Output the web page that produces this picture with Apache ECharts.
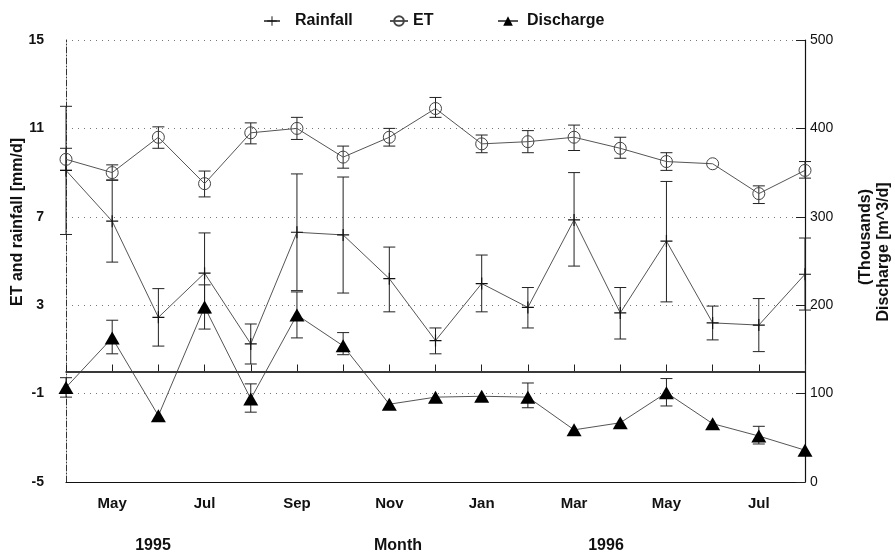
<!DOCTYPE html>
<html>
<head>
<meta charset="utf-8">
<script src="https://cdn.jsdelivr.net/npm/echarts@6/dist/echarts.min.js"></script>
<style>
  html, body { margin: 0; padding: 0; background: #fff; }
  #chart { width: 895px; height: 554px; }
</style>
</head>
<body>
<div id="chart"></div>
<script>
// Monthly means, April 1995 to August 1996
const months = ['Apr 1995','May 1995','Jun 1995','Jul 1995','Aug 1995','Sep 1995','Oct 1995','Nov 1995',
                'Dec 1995','Jan 1996','Feb 1996','Mar 1996','Apr 1996','May 1996','Jun 1996','Jul 1996','Aug 1996'];

// Rainfall [mm/d] with lower / upper error limits
const rainfall     = [9.1, 6.8, 2.45, 4.45, 1.25, 6.3, 6.18, 4.2, 1.4, 3.98, 2.9, 6.86, 2.65, 5.9, 2.2, 2.1, 4.4];
const rainfallLow  = [6.2, 4.95, 1.15, 2.65, 0.34, 3.66, 3.55, 2.7, 0.8, 2.7, 1.97, 4.77, 1.47, 3.15, 1.43, 0.9, 2.78];
const rainfallHigh = [12.0, 8.65, 3.75, 6.27, 2.15, 8.94, 8.8, 5.63, 1.97, 5.27, 3.8, 9.0, 3.8, 8.6, 2.96, 3.3, 6.04];

// Evapotranspiration [mm/d]
const et     = [9.6, 9.0, 10.6, 8.5, 10.8, 11.0, 9.7, 10.6, 11.9, 10.3, 10.4, 10.6, 10.1, 9.5, 9.4, 8.05, 9.1];
const etLow  = [9.1, 8.67, 10.1, 7.9, 10.3, 10.5, 9.2, 10.2, 11.5, 9.9, 9.9, 10.0, 9.65, 9.1, null, 7.6, 8.75];
const etHigh = [10.1, 9.35, 11.07, 9.07, 11.25, 11.5, 10.2, 11.0, 12.4, 10.7, 10.9, 11.15, 10.6, 9.9, null, 8.4, 9.5];

// Discharge [thousand m^3/d]
const discharge     = [107, 163, 75, 198, 94, 189, 154, 88, 96, 97, 96, 59, 67, 101, 66, 52, 36];
const dischargeLow  = [96, 145, null, 173, 79, 163, 144, null, null, null, 84, null, null, 86, null, 43, null];
const dischargeHigh = [118, 183, null, 223, 111, 215, 169, null, null, null, 112, null, null, 117, null, 63, null];

// Axis ticks
const leftTicks  = { min: -5, max: 15, interval: 4 };
const rightTicks = { min: 0, max: 500, interval: 100 };

const FONT = 'Liberation Sans, Arial, sans-serif';
const INK = '#111';

function barData(lo, hi) {
  const out = [];
  lo.forEach((v, i) => { if (v != null && hi[i] != null) out.push([i, v, hi[i]]); });
  return out;
}

function renderErrorBar(params, api) {
  const x = api.value(0);
  const lo = api.coord([x, api.value(1)]);
  const hi = api.coord([x, api.value(2)]);
  const w = 6;
  const style = { stroke: '#222', lineWidth: 1, fill: null };
  return {
    type: 'group',
    children: [
      { type: 'line', shape: { x1: lo[0], y1: lo[1], x2: hi[0], y2: hi[1] }, style },
      { type: 'line', shape: { x1: lo[0] - w, y1: lo[1], x2: lo[0] + w, y2: lo[1] }, style },
      { type: 'line', shape: { x1: hi[0] - w, y1: hi[1], x2: hi[0] + w, y2: hi[1] }, style }
    ]
  };
}

const plusSymbol = 'path://M0,4.5H10V5.5H0Z M4.5,0H5.5V10H4.5Z';

const chart = echarts.init(document.getElementById('chart'), null, { renderer: 'canvas' });

const legendText = { fontFamily: FONT, fontSize: 16, fontWeight: 'bold', color: INK };

chart.setOption({
  animation: false,
  backgroundColor: '#fff',
  grid: { left: 66, right: 90, top: 40, bottom: 72, containLabel: false },
  legend: [
    { data: ['Rainfall'], left: 258, top: 8, itemWidth: 16, itemHeight: 12,
      textStyle: Object.assign({ padding: [0, 0, 0, 10] }, legendText) },
    { data: ['ET'], left: 384, top: 8, itemWidth: 18, itemHeight: 12, textStyle: legendText },
    { data: ['Discharge'], left: 492, top: 8, itemWidth: 20, itemHeight: 12,
      textStyle: Object.assign({ padding: [0, 0, 0, 4] }, legendText) }
  ],
  xAxis: [
    {
      type: 'category',
      data: months,
      boundaryGap: false,
      position: 'bottom',
      axisLine: { lineStyle: { color: '#111', width: 1.5 } },
      axisTick: { show: true, inside: true, length: 7, interval: 0, lineStyle: { color: '#222' } },
      axisLabel: {
        interval: (i) => i % 2 === 1,
        formatter: (v) => v.split(' ')[0],
        margin: 14,
        fontFamily: FONT, fontSize: 15, fontWeight: 'bold', color: INK
      },
      splitLine: { show: false }
    },
    {
      type: 'category',
      data: months,
      boundaryGap: false,
      position: 'top',
      axisLine: { lineStyle: { color: '#111', width: 1.2 } },
      axisTick: { show: false },
      axisLabel: { show: false },
      splitLine: { show: false }
    }
  ],
  yAxis: [
    {
      type: 'value',
      position: 'left',
      min: leftTicks.min, max: leftTicks.max, interval: leftTicks.interval,
      axisLine: { show: true, lineStyle: { color: '#333', width: 1, type: [6, 2, 1, 2] } },
      axisTick: { show: false },
      axisLabel: {
        margin: 22, padding: [0, 0, 7, 0],
        fontFamily: FONT, fontSize: 14, fontWeight: 'bold', color: INK
      },
      splitLine: { show: true, lineStyle: { color: '#777', width: 1, type: [1, 5] } }
    },
    {
      type: 'value',
      position: 'right',
      min: rightTicks.min, max: rightTicks.max, interval: rightTicks.interval,
      axisLine: { show: true, lineStyle: { color: '#111', width: 1.2 } },
      axisTick: { show: true, inside: true, length: 9, lineStyle: { color: '#222' } },
      axisLabel: { margin: 5, fontFamily: FONT, fontSize: 14, color: INK },
      splitLine: { show: false }
    }
  ],
  series: [
    {
      name: 'Rainfall error', type: 'custom', xAxisIndex: 0, yAxisIndex: 0, z: 2,
      renderItem: renderErrorBar, encode: { x: 0, y: [1, 2] },
      data: barData(rainfallLow, rainfallHigh)
    },
    {
      name: 'ET error', type: 'custom', xAxisIndex: 0, yAxisIndex: 0, z: 2,
      renderItem: renderErrorBar, encode: { x: 0, y: [1, 2] },
      data: barData(etLow, etHigh)
    },
    {
      name: 'Discharge error', type: 'custom', xAxisIndex: 0, yAxisIndex: 1, z: 2,
      renderItem: renderErrorBar, encode: { x: 0, y: [1, 2] },
      data: barData(dischargeLow, dischargeHigh)
    },
    {
      name: 'Rainfall', type: 'line', xAxisIndex: 0, yAxisIndex: 0, z: 3,
      data: rainfall,
      symbol: plusSymbol, symbolSize: 12, showAllSymbol: true,
      lineStyle: { color: '#555', width: 1 },
      itemStyle: { color: '#111' },
      markLine: {
        silent: true, symbol: 'none', label: { show: false },
        lineStyle: { color: '#333', width: 1.5, type: 'solid' },
        data: [{ yAxis: 0 }]
      }
    },
    {
      name: 'ET', type: 'line', xAxisIndex: 0, yAxisIndex: 0, z: 3,
      data: et,
      symbol: 'circle', symbolSize: 12, showAllSymbol: true,
      lineStyle: { color: '#555', width: 1 },
      itemStyle: { color: 'rgba(255,255,255,0)', borderColor: '#444', borderWidth: 1 }
    },
    {
      name: 'Discharge', type: 'line', xAxisIndex: 0, yAxisIndex: 1, z: 4,
      data: discharge,
      symbol: 'triangle', symbolSize: [15, 13], showAllSymbol: true,
      lineStyle: { color: '#555', width: 1 },
      itemStyle: { color: '#000' }
    }
  ],
  graphic: [
    { type: 'text', x: 18, y: 222, rotation: Math.PI / 2,
      style: { text: 'ET and rainfall [mm/d]', align: 'center', verticalAlign: 'middle',
               font: 'bold 16px ' + FONT, fill: INK } },
    { type: 'text', x: 866, y: 237, rotation: Math.PI / 2,
      style: { text: '(Thousands)', align: 'center', verticalAlign: 'middle',
               font: 'bold 16px ' + FONT, fill: INK } },
    { type: 'text', x: 884, y: 252, rotation: Math.PI / 2,
      style: { text: 'Discharge [m^3/d]', align: 'center', verticalAlign: 'middle',
               font: 'bold 16px ' + FONT, fill: INK } },
    { type: 'text', x: 153, y: 546,
      style: { text: '1995', align: 'center', verticalAlign: 'middle',
               font: 'bold 16px ' + FONT, fill: INK } },
    { type: 'text', x: 398, y: 546,
      style: { text: 'Month', align: 'center', verticalAlign: 'middle',
               font: 'bold 16px ' + FONT, fill: INK } },
    { type: 'text', x: 606, y: 546,
      style: { text: '1996', align: 'center', verticalAlign: 'middle',
               font: 'bold 16px ' + FONT, fill: INK } }
  ]
});
</script>
</body>
</html>
